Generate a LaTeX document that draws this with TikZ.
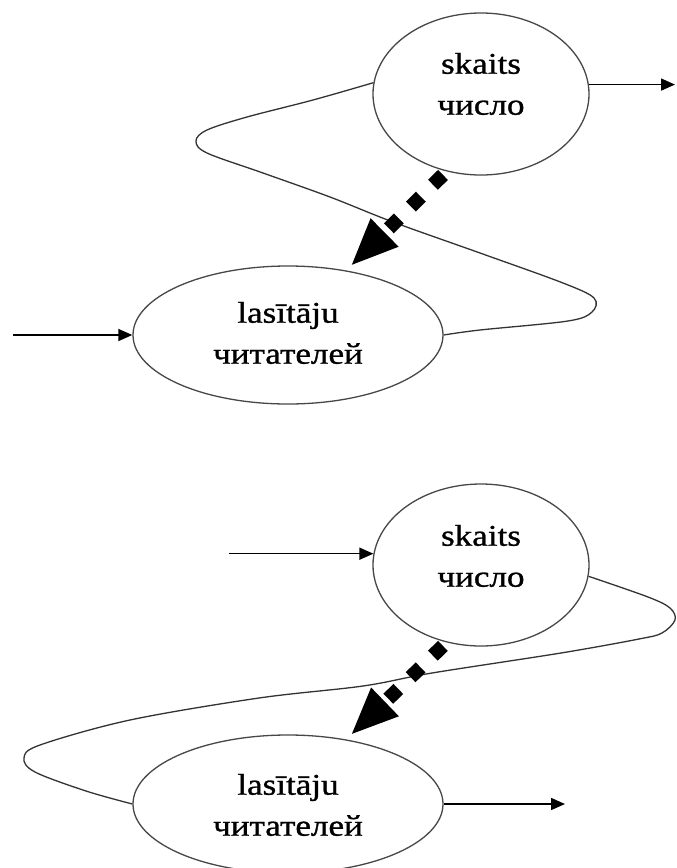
\documentclass[tikz,border=0pt]{standalone}
\usepackage{fontspec}
\setmainfont{Liberation Serif}
\newfontfamily\lblfont[FakeBold=0.9]{Liberation Serif}
\usepackage{graphicx}
\usetikzlibrary{shapes.geometric,arrows.meta}
% two centred lines of a state label, set wide
\newcommand\twolines[2]{\scalebox{1.17}[1]{\lblfont\fontsize{30}{41}\selectfont\begin{tabular}{@{}c@{}}#1\\#2\end{tabular}}}
\begin{document}
\begin{tikzpicture}[x=1pt,y=-1pt,
  state/.style={ellipse, draw=black!72, line width=1.3pt, inner sep=0pt},
  skaitsnode/.style={state, minimum width=216pt, minimum height=162pt},
  lasnode/.style={state, minimum width=310pt, minimum height=138pt},
  txt/.style={inner sep=0pt},
  arr/.style={draw=black, line width=1.5pt, -{Triangle[length=14pt,width=12pt]}},
  loopline/.style={draw=black!80, line width=1.3pt},
  dotarr/.style={line width=14pt, dash pattern=on 14pt off 17pt,
    shorten <=5pt, shorten >=8pt,
    -{Triangle[length=46pt,width=40pt,line width=0pt]}}]

\path[fill=white, use as bounding box] (0,0) rectangle (677,868);

% ---------- upper diagram ----------
\node[skaitsnode] (S1) at (481,94) {};
\node[lasnode] (L1) at (288,335) {};
\node[txt] (S1t) at ([yshift=8pt]S1.center) {\twolines{skaits}{число}};
\node[txt] (L1t) at ([yshift=0pt]L1.center) {\twolines{lasītāju}{читателей}};

\coordinate (i1) at (13,335);
\coordinate (o1) at (675,85);
\draw[arr] (i1) -- (L1.west);
\draw[arr] (S1.5) -- (S1.5 -| o1);

\draw[loopline] plot[smooth, tension=0.55] coordinates {
  (S1.174) (313,100) (247,117) (207,130) (196,141) (207,153) (263,173)
  (330,197) (393,222) (480,253) (563,283) (594,298) (592,312)
  (568,321) (480,330) (L1.east)};

\draw[dotarr] (S1.246) -- (L1.48);

% ---------- lower diagram ----------
\node[skaitsnode] (S2) at (481,565) {};
\node[lasnode] (L2) at (288,804) {};
\node[txt] (S2t) at ([yshift=7pt]S2.center) {\twolines{skaits}{число}};
\node[txt] (L2t) at ([yshift=-3pt]L2.center) {\twolines{lasītāju}{читателей}};

\coordinate (i2) at (229,553);
\coordinate (o2) at (565,804);
\draw[arr] (i2 |- S2.174) -- (S2.174);
\draw[arr] (L2.east) -- (L2.east -| o2);

\draw[loopline] plot[smooth, tension=0.55] coordinates {
  (S2.-6) (648,597) (670,608) (675,620) (662,633) (639,639) (561,653)
  (432,673) (363,686) (259,698) (130,720) (40,745) (24,758)
  (35,772) (86,791) (L2.west)};

\draw[dotarr] (S2.246) -- (L2.48);
\end{tikzpicture}
\end{document}
